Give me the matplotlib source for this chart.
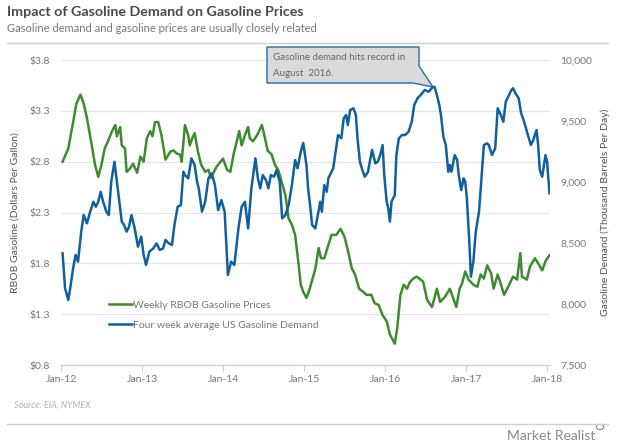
import matplotlib
matplotlib.use("Agg")
import matplotlib.pyplot as plt
from matplotlib.lines import Line2D
from matplotlib.patches import Polygon
import numpy as np

plt.rcParams['font.family'] = ['Lato', 'DejaVu Sans']

# weekly RBOB gasoline price ($/gal), time as decimal year
price_t = [2012.02, 2012.09, 2012.15, 2012.19, 2012.24, 2012.28, 2012.32, 2012.38, 2012.42, 2012.46,
           2012.50, 2012.54, 2012.58, 2012.63, 2012.67, 2012.69, 2012.73, 2012.75, 2012.79, 2012.81,
           2012.85, 2012.89, 2012.94, 2012.98, 2013.02, 2013.06, 2013.10, 2013.13, 2013.16, 2013.20,
           2013.24, 2013.29, 2013.35, 2013.39, 2013.43, 2013.47, 2013.49, 2013.53, 2013.57, 2013.59,
           2013.62, 2013.65, 2013.69, 2013.73, 2013.78, 2013.82, 2013.85, 2013.92, 2014.00, 2014.05,
           2014.09, 2014.13, 2014.17, 2014.20, 2014.23, 2014.27, 2014.31, 2014.33, 2014.37, 2014.42,
           2014.48, 2014.51, 2014.55, 2014.60, 2014.64, 2014.68, 2014.70, 2014.77, 2014.81, 2014.85,
           2014.89, 2014.92, 2014.96, 2014.99, 2015.03, 2015.07, 2015.12, 2015.14, 2015.18, 2015.21,
           2015.25, 2015.30, 2015.34, 2015.40, 2015.45, 2015.50, 2015.54, 2015.59, 2015.63, 2015.68,
           2015.73, 2015.77, 2015.83, 2015.87, 2015.92, 2015.97, 2016.02, 2016.06, 2016.12, 2016.15,
           2016.19, 2016.23, 2016.27, 2016.31, 2016.35, 2016.39, 2016.47, 2016.52, 2016.58, 2016.64,
           2016.68, 2016.74, 2016.80, 2016.84, 2016.88, 2016.92, 2016.95, 2016.99, 2017.03, 2017.09,
           2017.14, 2017.18, 2017.22, 2017.26, 2017.31, 2017.34, 2017.39, 2017.42, 2017.47, 2017.52,
           2017.58, 2017.63, 2017.67, 2017.69, 2017.75, 2017.79, 2017.85, 2017.89, 2017.94, 2017.98,
           2018.03]
price = [2.80, 2.93, 3.19, 3.37, 3.46, 3.37, 3.23, 2.96, 2.77, 2.65,
         2.77, 2.93, 3.00, 3.10, 3.16, 3.05, 3.14, 2.96, 2.93, 2.70,
         2.73, 2.78, 2.69, 2.85, 2.80, 3.03, 3.10, 3.05, 3.19, 3.19,
         3.06, 2.82, 2.90, 2.91, 2.88, 2.87, 2.80, 3.16, 3.06, 2.96,
         3.03, 3.08, 2.90, 2.77, 2.70, 2.72, 2.64, 2.75, 2.83, 2.72,
         2.70, 2.87, 3.00, 3.10, 2.96, 3.06, 3.14, 3.03, 3.00, 3.06,
         3.16, 3.06, 2.91, 2.87, 2.77, 2.72, 2.67, 2.47, 2.24, 2.18,
         2.08, 1.88, 1.59, 1.52, 1.46, 1.55, 1.69, 1.75, 1.95, 1.85,
         1.85, 1.98, 2.08, 2.08, 2.14, 2.06, 1.93, 1.75, 1.69, 1.55,
         1.52, 1.49, 1.49, 1.41, 1.39, 1.29, 1.23, 1.10, 1.01, 1.16,
         1.49, 1.59, 1.55, 1.62, 1.65, 1.67, 1.62, 1.44, 1.37, 1.55,
         1.42, 1.47, 1.55, 1.46, 1.37, 1.55, 1.60, 1.72, 1.64, 1.59,
         1.57, 1.69, 1.65, 1.78, 1.70, 1.55, 1.69, 1.62, 1.49, 1.57,
         1.67, 1.64, 1.90, 1.67, 1.64, 1.77, 1.85, 1.80, 1.73, 1.82,
         1.88]

# four-week average US gasoline demand (thousand barrels per day)
demand_t = [2012.02, 2012.05, 2012.09, 2012.12, 2012.15, 2012.18, 2012.21, 2012.25, 2012.28, 2012.32,
            2012.36, 2012.40, 2012.43, 2012.46, 2012.49, 2012.52, 2012.56, 2012.59, 2012.62, 2012.66,
            2012.69, 2012.72, 2012.75, 2012.78, 2012.81, 2012.84, 2012.87, 2012.91, 2012.95, 2012.99,
            2013.02, 2013.05, 2013.09, 2013.14, 2013.18, 2013.22, 2013.26, 2013.29, 2013.33, 2013.37,
            2013.40, 2013.44, 2013.48, 2013.51, 2013.53, 2013.57, 2013.61, 2013.65, 2013.68, 2013.70,
            2013.74, 2013.78, 2013.82, 2013.86, 2013.90, 2013.94, 2013.98, 2014.02, 2014.06, 2014.10,
            2014.14, 2014.19, 2014.23, 2014.27, 2014.31, 2014.35, 2014.40, 2014.43, 2014.46, 2014.49,
            2014.53, 2014.56, 2014.59, 2014.63, 2014.66, 2014.70, 2014.73, 2014.77, 2014.81, 2014.85,
            2014.89, 2014.92, 2014.96, 2014.99, 2015.03, 2015.05, 2015.07, 2015.10, 2015.14, 2015.17,
            2015.20, 2015.22, 2015.25, 2015.28, 2015.30, 2015.36, 2015.39, 2015.42, 2015.46, 2015.49,
            2015.52, 2015.54, 2015.57, 2015.61, 2015.64, 2015.66, 2015.69, 2015.72, 2015.75, 2015.79,
            2015.82, 2015.84, 2015.88, 2015.91, 2015.94, 2015.97, 2015.99, 2016.02, 2016.04, 2016.06,
            2016.08, 2016.12, 2016.14, 2016.17, 2016.21, 2016.25, 2016.29, 2016.33, 2016.36, 2016.40,
            2016.44, 2016.49, 2016.54, 2016.58, 2016.61, 2016.64, 2016.67, 2016.69, 2016.72, 2016.75,
            2016.78, 2016.80, 2016.82, 2016.86, 2016.89, 2016.91, 2016.94, 2016.97, 2016.99, 2017.01,
            2017.04, 2017.06, 2017.09, 2017.12, 2017.16, 2017.19, 2017.22, 2017.26, 2017.28, 2017.32,
            2017.36, 2017.39, 2017.43, 2017.46, 2017.49, 2017.52, 2017.56, 2017.58, 2017.61, 2017.65,
            2017.68, 2017.71, 2017.74, 2017.77, 2017.80, 2017.83, 2017.87, 2017.89, 2017.91, 2017.94,
            2017.98, 2018.00, 2018.03]
demand = [8415, 8129, 8033, 8156, 8293, 8402, 8347, 8593, 8729, 8661,
          8757, 8838, 8797, 8838, 8920, 8838, 8757, 8729, 9002, 9166,
          9002, 8838, 8675, 8647, 8593, 8634, 8729, 8620, 8470, 8552,
          8402, 8320, 8429, 8456, 8497, 8443, 8456, 8525, 8497, 8484,
          8647, 8797, 8811, 9084, 9057, 9030, 9194, 9139, 9002, 8948,
          8757, 8838, 9030, 9071, 8975, 8770, 8852, 8757, 8238, 8347,
          8320, 8620, 8797, 8838, 8620, 8948, 9194, 9030, 8948, 9057,
          9016, 8948, 9057, 9043, 9098, 9002, 8702, 8729, 8811, 8975,
          9180, 9112, 9248, 9320, 9139, 8948, 8838, 8647, 8620, 8729,
          8838, 8757, 8975, 8920, 9030, 9112, 9248, 9385, 9358, 9522,
          9549, 9467, 9590, 9604, 9549, 9358, 9166, 9098, 9043, 9084,
          9194, 9262, 9153, 9166, 9221, 9303, 9057, 8838, 8784, 8675,
          8838, 8893, 9221, 9358, 9385, 9385, 9412, 9494, 9631, 9686,
          9713, 9754, 9740, 9773, 9781, 9713, 9631, 9549, 9371, 9303,
          9084, 9139, 9084, 9221, 9180, 9057, 8934, 9030, 9002, 8866,
          8511, 8224, 8347, 8593, 8757, 9030, 9303, 9317, 9303, 9221,
          9276, 9604, 9549, 9494, 9658, 9699, 9754, 9768, 9727, 9686,
          9563, 9508, 9440, 9371, 9303, 9344, 9426, 9303, 9098, 9043,
          9221, 9166, 8907]

years = [2012, 2013, 2014, 2015, 2016, 2017, 2018]
year_labels = ['Jan-12', 'Jan-13', 'Jan-14', 'Jan-15', 'Jan-16', 'Jan-17', 'Jan-18']
price_ticks = [0.8, 1.3, 1.8, 2.3, 2.8, 3.3, 3.8]
demand_ticks = [7500, 8000, 8500, 9000, 9500, 10000]

green = '#3d8b2f'
blue = '#11609e'
W, H = 620, 444


def fx(x):
    return x / W


def fy(y):
    return 1 - y / H


fig = plt.figure(figsize=(6.2, 4.44), dpi=100)
ax = fig.add_axes([fx(61), fy(365), fx(549.5) - fx(61), fy(60) - fy(365)])
ax2 = ax.twinx()

ax.plot(price_t, price, color=green, lw=1.8)
ax2.plot(demand_t, demand, color=blue, lw=1.8)

ax.set_xlim(2012.0, 2018.03)
ax.set_ylim(0.8, 3.8)
ax2.set_ylim(7500, 10000)
ax.set_yticks(price_ticks)
ax.set_yticklabels(['$%.1f' % v for v in price_ticks])
ax2.set_yticks(demand_ticks)
ax2.set_yticklabels(['{:,}'.format(v) for v in demand_ticks])
ax.set_xticks(years)
ax.set_xticklabels(year_labels)

for a in (ax, ax2):
    for s in ('top', 'left', 'right'):
        a.spines[s].set_visible(False)
    a.spines['bottom'].set_color('#cccccc')
    a.tick_params(axis='y', length=0, labelsize=7.5, labelcolor='#777777')
ax.tick_params(axis='x', length=4, color='#cccccc', labelsize=7.5, labelcolor='#777777', pad=3)
ax.tick_params(axis='y', pad=8)
ax2.tick_params(axis='y', pad=8)
ax.grid(axis='y', color='#e6e6e6', lw=1)
ax.set_axisbelow(True)

ax.set_ylabel('RBOB Gasoline (Dollars Per Gallon)', fontsize=7.5, color='#555555', labelpad=7)
ax2.set_ylabel('Gasoline Demand (Thousand Barrels Per Day)', fontsize=7.5, color='#555555', labelpad=6)

handles = [Line2D([], [], color=green, lw=1.8), Line2D([], [], color=blue, lw=1.8)]
ax2.legend(handles, ['Weekly RBOB Gasoline Prices', 'Four week average US Gasoline Demand'],
           loc='lower left', bbox_to_anchor=(0.08, 0.085), frameon=False, fontsize=7.5,
           labelcolor='#777777', handlelength=2.2, handletextpad=0.1, labelspacing=1.0)

# callout
pts = [(267, 47), (419, 47), (419, 66), (433, 87), (413, 83), (267, 83)]
fig.patches.append(Polygon([(fx(x), fy(y)) for x, y in pts], closed=True,
                           transform=fig.transFigure, facecolor='#dadada',
                           edgecolor='#2a6aa5', lw=1.0, zorder=5))
fig.text(fx(273), fy(58), 'Gasoline demand hits record in', fontsize=7, color='#666666',
         va='center', zorder=6)
fig.text(fx(273), fy(73), 'August  2016.', fontsize=7, color='#666666', va='center', zorder=6)

# header / footer
fig.text(fx(7), fy(12), 'Impact of Gasoline Demand on Gasoline Prices', fontsize=10.3,
         fontweight='bold', color='#4a4a4a', va='center')
fig.text(fx(7), fy(28), 'Gasoline demand and gasoline prices are usually closely related',
         fontsize=8, color='#777777', va='center')
fig.add_artist(Line2D([fx(7), fx(608)], [fy(43), fy(43)], color='#cccccc', lw=1))
fig.text(fx(14), fy(405), 'Source: EIA, NYMEX', fontsize=6.5, style='italic',
         color='#b0b0b0', va='center')
fig.add_artist(Line2D([fx(7), fx(608)], [fy(424), fy(424)], color='#d0d0d0', lw=1))
fig.text(fx(595), fy(436), 'Market Realist', fontsize=10, color='#8a8a8a', va='center', ha='right')
fig.add_artist(plt.Circle((fx(600), fy(427)), 0.006, transform=fig.transFigure,
                          fill=False, edgecolor='#8a8a8a', lw=0.8))

fig.savefig('out.png', dpi=100)
